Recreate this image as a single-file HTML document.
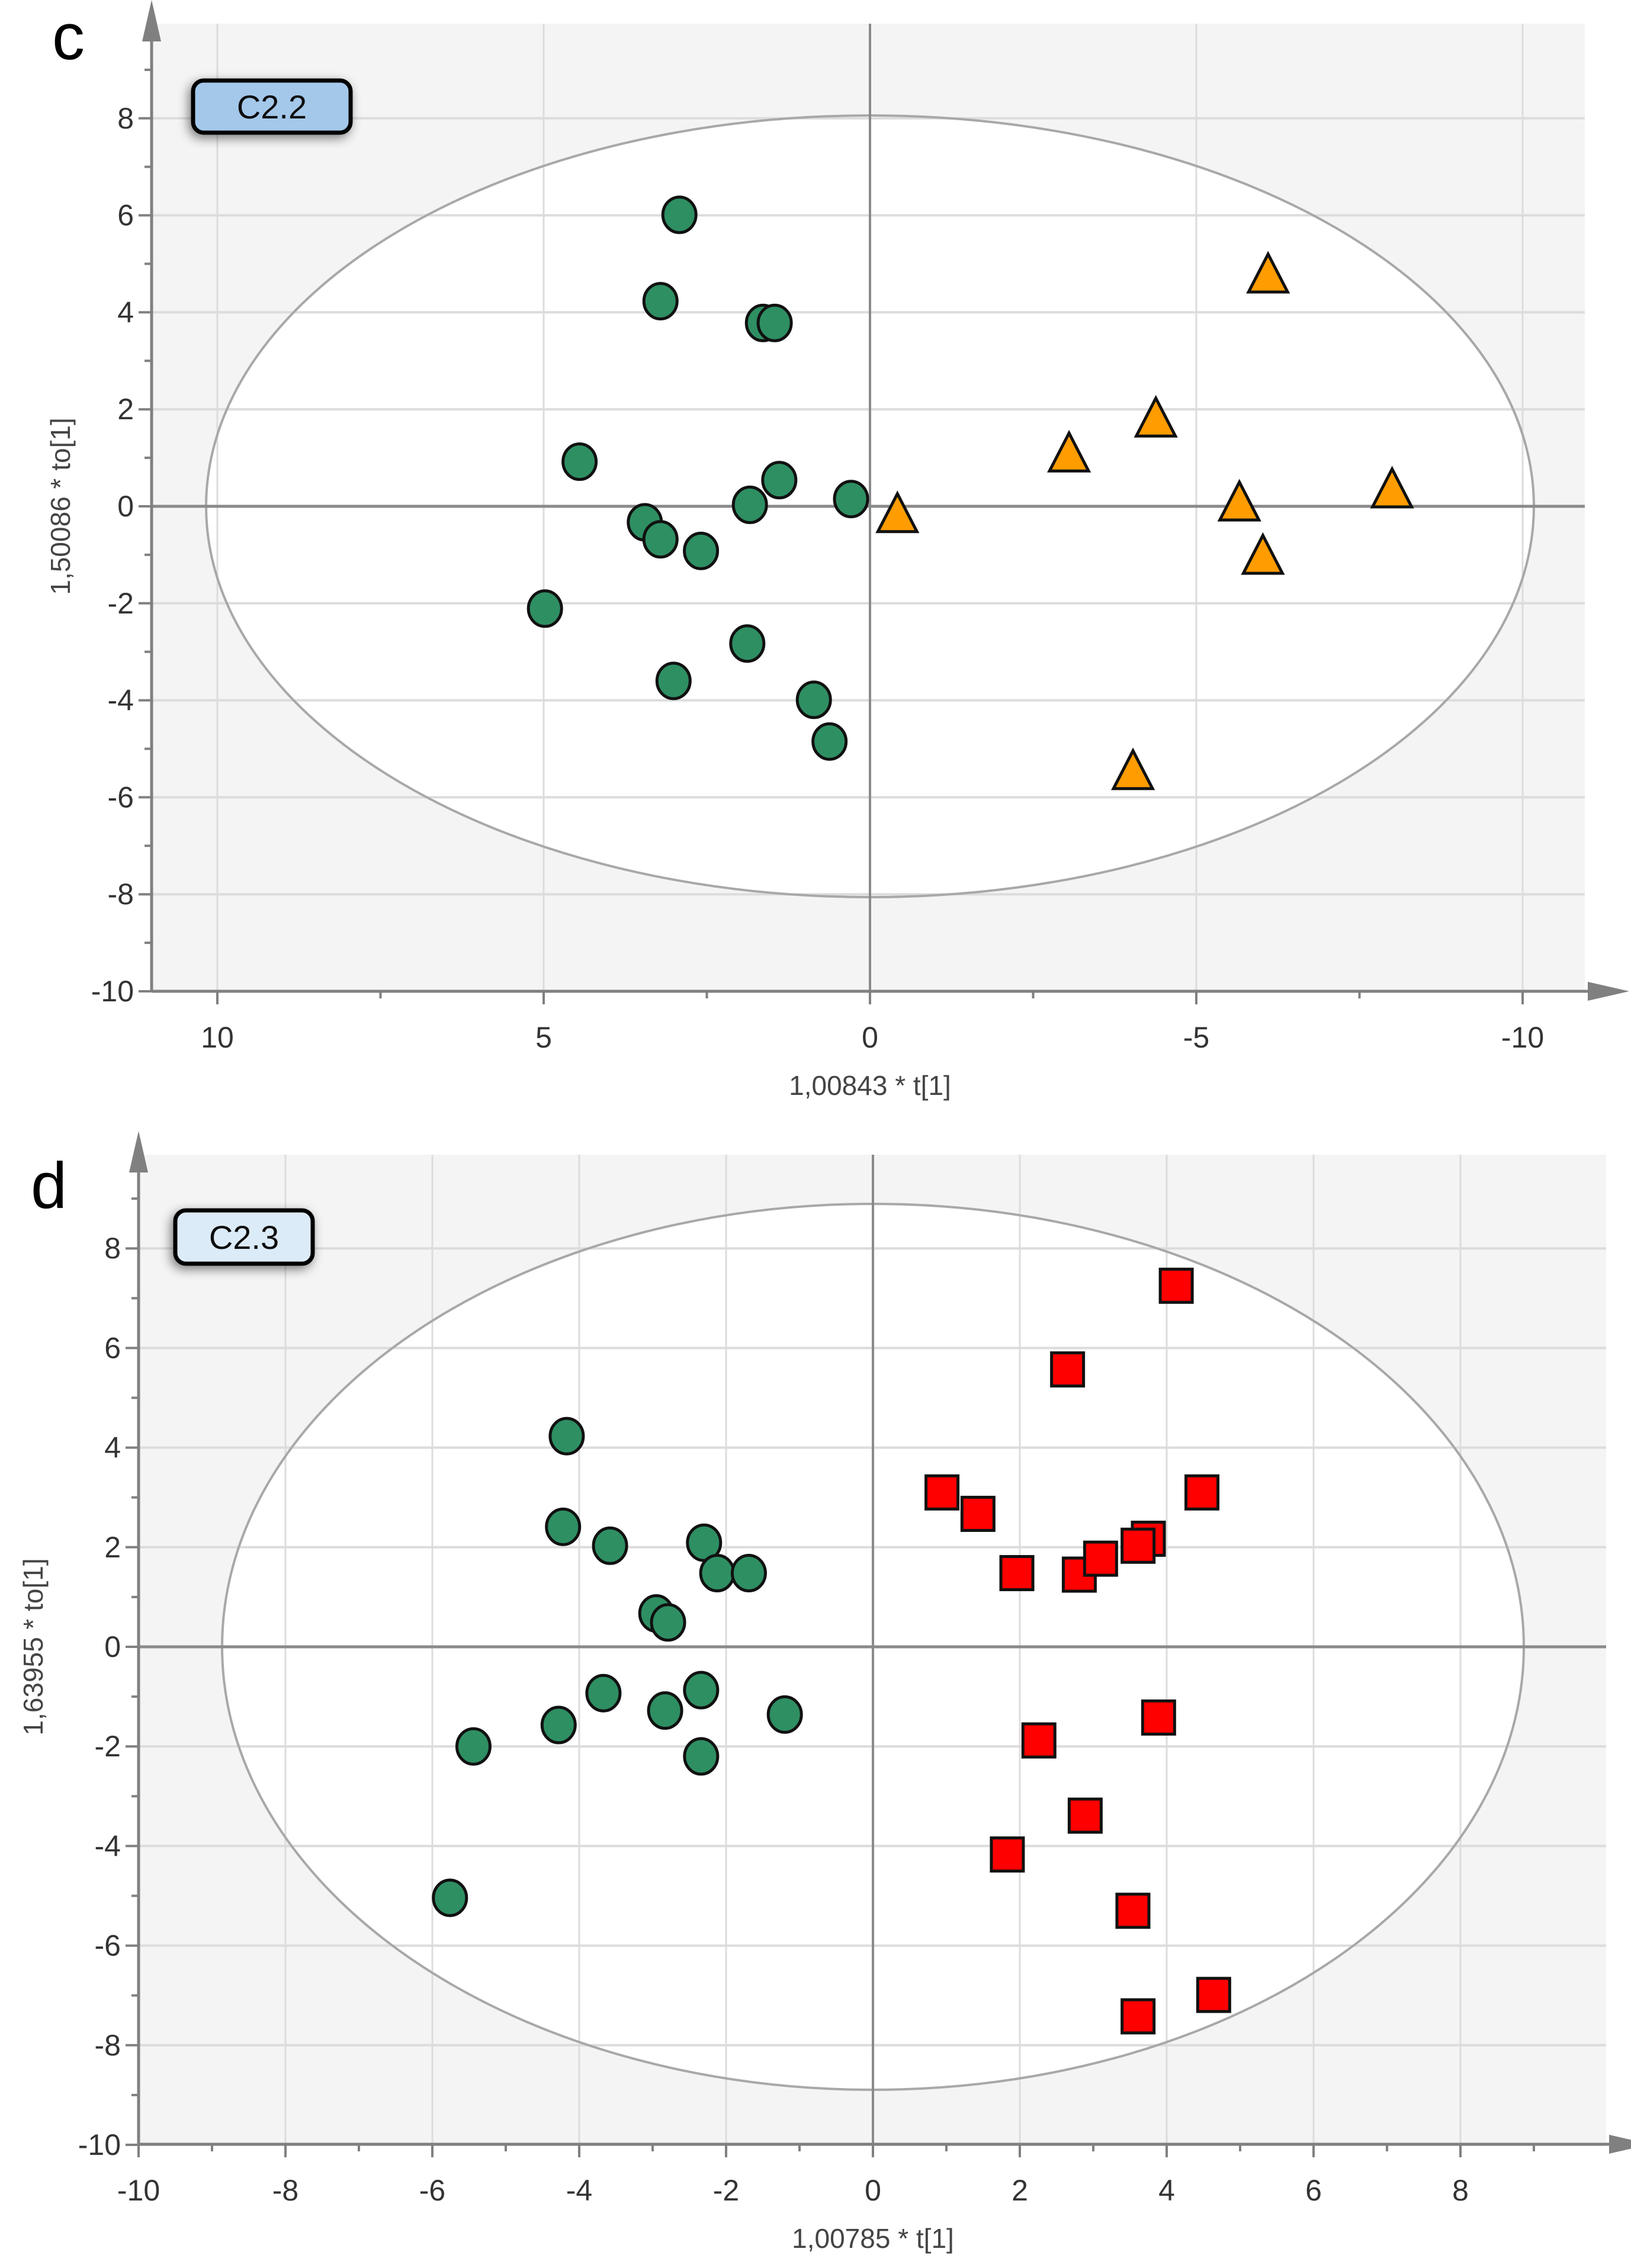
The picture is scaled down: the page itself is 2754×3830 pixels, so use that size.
<!DOCTYPE html>
<html><head><meta charset="utf-8"><style>
html,body{margin:0;padding:0;background:#fff}
svg{display:block;font-family:"Liberation Sans",sans-serif}
</style></head>
<body>
<svg id="fig" width="2754" height="3830" viewBox="0 0 2754 3830" xmlns="http://www.w3.org/2000/svg">
<defs>
<filter id="sh" x="-30%" y="-30%" width="160%" height="160%"><feGaussianBlur in="SourceAlpha" stdDeviation="9"/><feOffset dx="-4" dy="6"/><feComponentTransfer><feFuncA type="linear" slope="0.5"/></feComponentTransfer><feMerge><feMergeNode/><feMergeNode in="SourceGraphic"/></feMerge></filter>
</defs>
</svg>
<script>
// Panel c data
const cCircleX=[2.92,3.21,1.64,1.46,4.45,1.39,1.84,0.29,3.45,3.21,2.59,4.98,1.88,3.01,0.86,0.62];
const cCircleY=[6.01,4.23,3.78,3.78,0.92,0.54,0.03,0.15,-0.33,-0.68,-0.92,-2.11,-2.83,-3.6,-3.99,-4.85];
const cTriX=[-0.42,-3.05,-4.38,-6.1,-5.66,-6.02,-8.0,-4.03];
const cTriY=[-0.18,1.07,1.79,4.76,0.06,-1.04,0.33,-5.48];
const cXTicks=[10,5,0,-5,-10];
const cYTicks=[8,6,4,2,0,-2,-4,-6,-8,-10];
// Panel d data
const dCircleX=[-4.17,-4.22,-3.58,-2.30,-2.12,-1.69,-2.95,-2.79,-3.67,-4.28,-2.83,-2.34,-1.20,-5.44,-2.34,-5.76];
const dCircleY=[4.23,2.41,2.03,2.09,1.48,1.48,0.67,0.49,-0.93,-1.57,-1.28,-0.87,-1.36,-2.0,-2.2,-5.04];
const dSqX=[4.13,2.65,0.94,1.43,4.48,1.96,2.81,3.10,3.75,3.61,3.89,2.26,2.89,1.83,3.54,4.64,3.61];
const dSqY=[7.25,5.57,3.10,2.67,3.10,1.48,1.45,1.77,2.17,2.03,-1.42,-1.88,-3.39,-4.17,-5.30,-6.99,-7.42];
const dXTicks=[-10,-8,-6,-4,-2,0,2,4,6,8];
const dYTicks=[8,6,4,2,0,-2,-4,-6,-8,-10];

const NS="http://www.w3.org/2000/svg";
const svg=document.getElementById('fig');
function mk(tag,attrs,parent){const e=document.createElementNS(NS,tag);for(const k in attrs)e.setAttribute(k,attrs[k]);(parent||svg).appendChild(e);return e;}

function panel(o){
  const g=mk('g',{});
  
  
  const sx=v=>o.x0+v*o.ux, sy=v=>o.y0-v*o.uy;
  const bg=mk('rect',{x:o.left,y:o.top,width:o.right-o.left,height:o.bottom-o.top,fill:'#f4f4f4'},g);
  
  
  mk('ellipse',{cx:sx(0),cy:sy(0),rx:o.erx,ry:o.ery,fill:'#fff'},g);
  o.xt.forEach(v=>{const l=mk('line',{x1:sx(v),x2:sx(v),y1:o.top,y2:o.bottom,stroke:'#dcdcdc','stroke-width':3},g);
    });
  o.yt.forEach(v=>{const l=mk('line',{x1:o.left,x2:o.right,y1:sy(v),y2:sy(v),stroke:'#dcdcdc','stroke-width':4},g);
    });
  const eo=mk('ellipse',{cx:sx(0),cy:sy(0),rx:o.erx,ry:o.ery,fill:'none',stroke:'#a8a8a8','stroke-width':4},g);
  
  const zx=mk('line',{x1:o.left,x2:o.right,y1:sy(0),y2:sy(0),stroke:'#8a8a8a','stroke-width':5},g);
  
  const zy=mk('line',{x1:sx(0),x2:sx(0),y1:o.top,y2:o.bottom,stroke:'#8a8a8a','stroke-width':4},g);
  
  const ya=mk('line',{x1:o.left,x2:o.left,y1:o.bottom,y2:o.top+10,stroke:'#808080','stroke-width':5},g);
  
  const yar=mk('polygon',{points:`${o.left},${o.top-40} ${o.left-16},${o.top+30} ${o.left+16},${o.top+30}`,fill:'#808080'},g);
  
  const xa=mk('line',{x1:o.left,x2:o.right+20,y1:o.bottom,y2:o.bottom,stroke:'#808080','stroke-width':5},g);
  
  const xar=mk('polygon',{points:`${o.right+75},${o.bottom} ${o.right+5},${o.bottom-16} ${o.right+5},${o.bottom+16}`,fill:'#808080'},g);
  
  for(let v=o.yt[o.yt.length-1];v<=o.ymaxMinor;v+=o.yminor){
    const major=o.yt.some(t=>Math.abs(t-v)<1e-6);
    mk('line',{x1:o.left-(major?22:12),x2:o.left,y1:sy(v),y2:sy(v),stroke:'#808080','stroke-width':4},g);
  }
  o.yt.forEach(v=>{const t=mk('text',{x:o.left-30,y:sy(v)+17,'text-anchor':'end','font-size':50,fill:'#333'},g);t.textContent=v;
    });
  for(let v=o.xminMinor;v<=o.xmaxMinor+1e-6;v+=o.xminor){
    const major=o.xt.some(t=>Math.abs(t-v)<1e-6);
    mk('line',{x1:sx(v),x2:sx(v),y1:o.bottom,y2:o.bottom+(major?22:12),stroke:'#808080','stroke-width':4},g);
  }
  o.xt.forEach(v=>{const t=mk('text',{x:sx(v),y:o.bottom+95,'text-anchor':'middle','font-size':50,fill:'#333'},g);t.textContent=v;
    });
  const xt=mk('text',{x:sx(0),y:o.bottom+175,'text-anchor':'middle','font-size':46,fill:'#444'},g);xt.textContent=o.xtitle;
  
  const ytt=mk('text',{x:0,y:0,'text-anchor':'middle','font-size':46,fill:'#444',transform:`translate(${o.ytitleX},${sy(0)}) rotate(-90)`},g);ytt.textContent=o.ytitle;
  
  const pl=mk('text',{x:o.letterX,y:o.letterY,'font-size':110,fill:'#000'},g);pl.textContent=o.letter;
  
  const lb=mk('g',{filter:'url(#sh)'},g);
  
  mk('rect',{x:o.box[0],y:o.box[1],width:o.box[2],height:o.box[3],rx:18,fill:o.boxFill,stroke:'#000','stroke-width':7},lb);
  const bt=mk('text',{x:o.box[0]+o.box[2]/2,y:o.box[1]+o.box[3]/2+20,'text-anchor':'middle','font-size':56,fill:'#111'},lb);bt.textContent=o.boxText;
  return {g,sx,sy};
}

function circles(p,X,Y,name){
  X.forEach((x,i)=>{const c=mk('ellipse',{cx:p.sx(x),cy:p.sy(Y[i]),rx:28,ry:30,fill:'#2e8f63',stroke:'#111','stroke-width':5},p.g);
    
    });
}

const pc=panel({name:'panel-c',x0:1469,y0:855,ux:-110.2,uy:81.9,left:256,right:2676,top:40,bottom:1674,
  erx:1121,ery:660,xt:cXTicks,yt:cYTicks,yminor:1,ymaxMinor:9,xminor:2.5,xminMinor:-10,xmaxMinor:10,
  xtitle:'1,00843 * t[1]',ytitle:'1,50086 * to[1]',ytitleX:118,letter:'c',letterX:88,letterY:100,
  box:[326,136,266,88],boxFill:'#a4c8ea',boxText:'C2.2'});
circles(pc,cCircleX,cCircleY,'control-point');
cTriX.forEach((x,i)=>{const cx=pc.sx(x),cy=pc.sy(cTriY[i]);
  const t=mk('polygon',{points:`${cx},${cy-36} ${cx-33},${cy+28} ${cx+33},${cy+28}`,fill:'#ff9c00',stroke:'#111','stroke-width':5,'stroke-linejoin':'miter'},pc.g);
  
  });

const pd=panel({name:'panel-d',x0:1474,y0:2781,ux:124.0,uy:84.1,left:234,right:2712,top:1950,bottom:3621,
  erx:1099,ery:748,xt:dXTicks,yt:dYTicks,yminor:1,ymaxMinor:9,xminor:1,xminMinor:-10,xmaxMinor:9,
  xtitle:'1,00785 * t[1]',ytitle:'1,63955 * to[1]',ytitleX:72,letter:'d',letterX:52,letterY:2040,
  box:[296,2044,232,90],boxFill:'#dcebf8',boxText:'C2.3'});
circles(pd,dCircleX,dCircleY,'control-point');
dSqX.forEach((x,i)=>{const cx=pd.sx(x),cy=pd.sy(dSqY[i]);
  const r=mk('rect',{x:cx-27,y:cy-28,width:54,height:56,fill:'#ff0000',stroke:'#111','stroke-width':5},pd.g);
  
  });
</script>
</body></html>
